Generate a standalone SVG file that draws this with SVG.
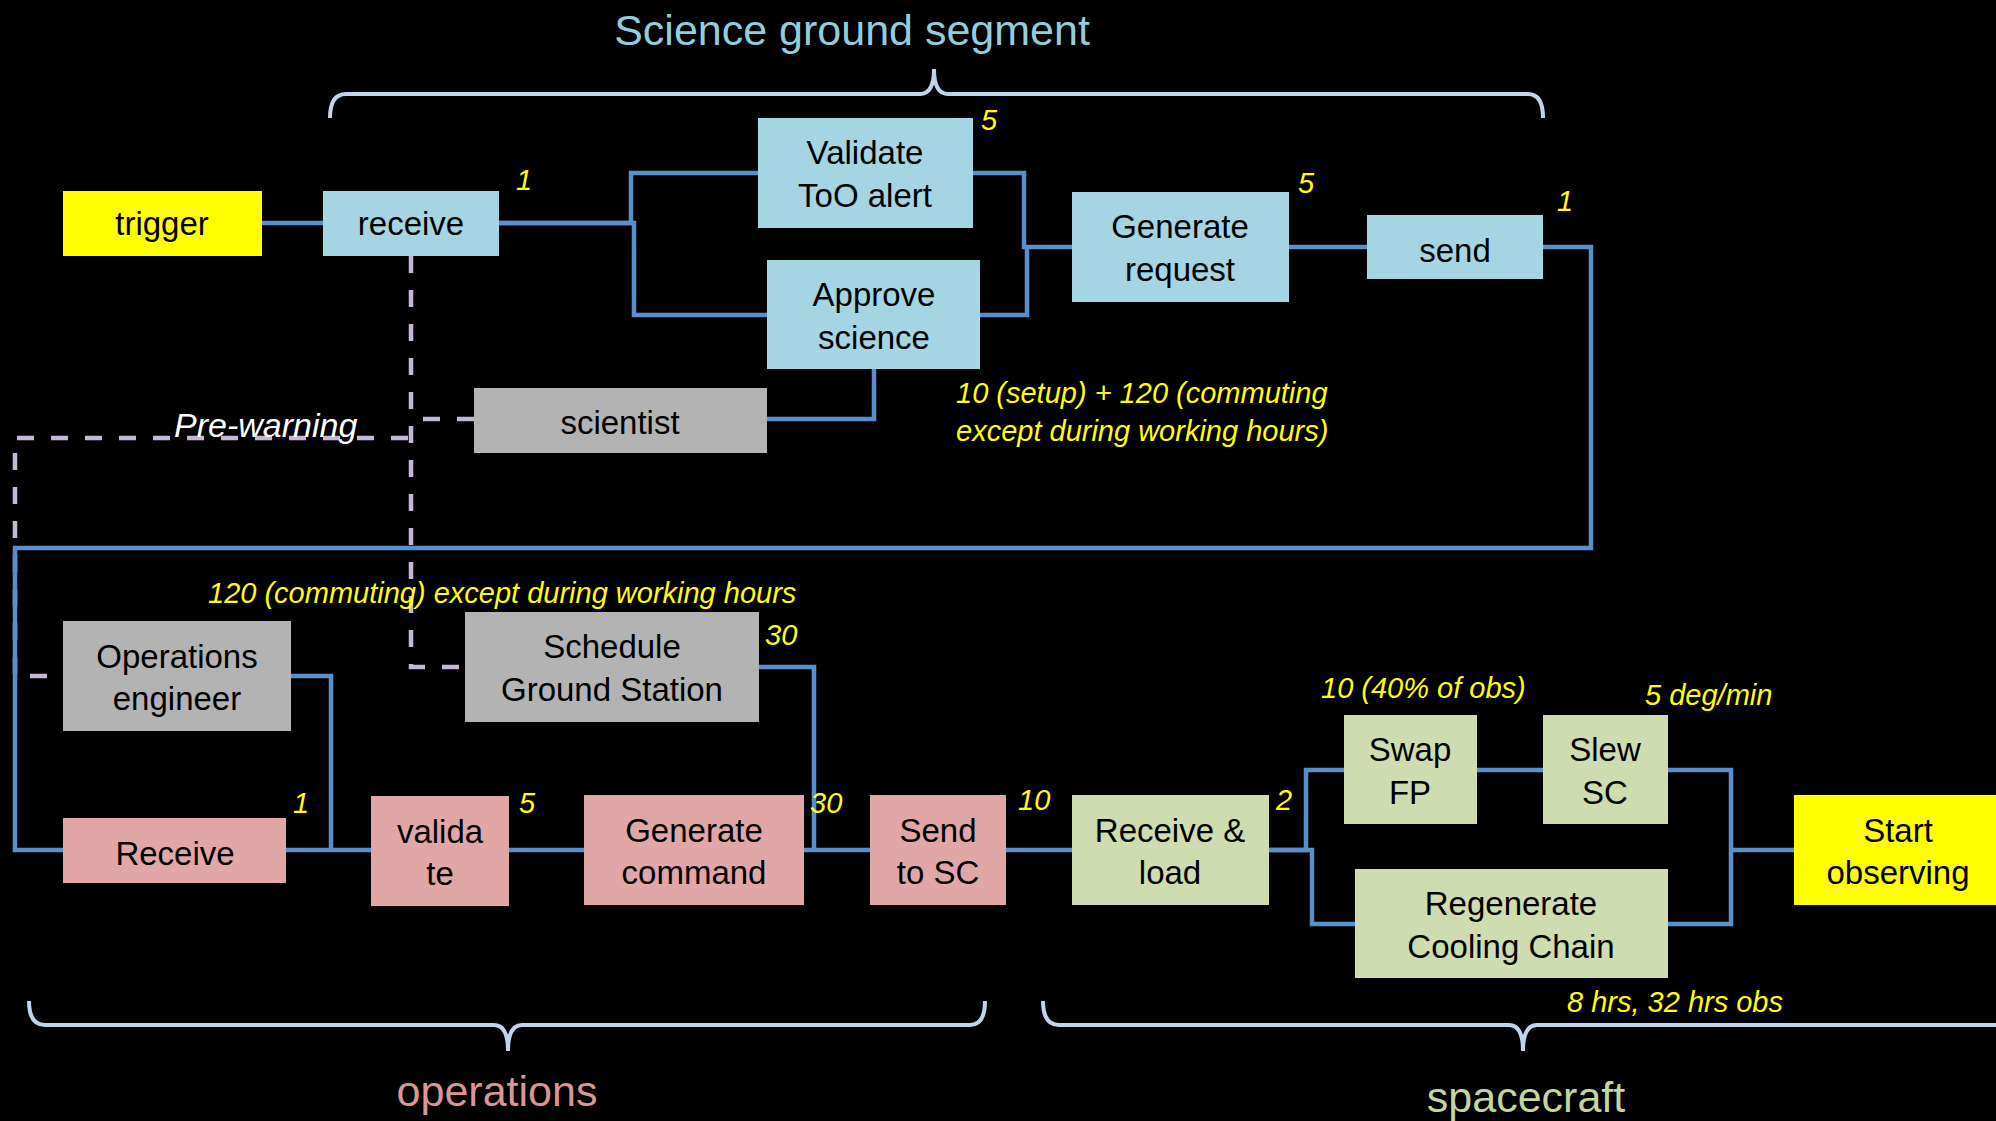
<svg xmlns="http://www.w3.org/2000/svg" width="1996" height="1121" viewBox="0 0 1996 1121">
<style>
.bg{fill:#000}
.t{font-family:"Liberation Sans",Arial,sans-serif;font-size:33px;fill:#000;text-anchor:middle}
.y{font-family:"Liberation Sans",Arial,sans-serif;font-size:29px;font-style:italic;fill:#ffff00}
.blue{fill:#a5d5e3}
.gray{fill:#b3b3b3}
.pink{fill:#e1a7a6}
.green{fill:#cedcaf}
.yel{fill:#ffff00}
.c{fill:none;stroke:#5b8fcb;stroke-width:4.5;stroke-linejoin:miter}
.d{fill:none;stroke:#c6b6d8;stroke-width:4.5;stroke-dasharray:17 17}
.br{fill:none;stroke:#c0d4ec;stroke-width:4}
.h{font-family:"Liberation Sans",Arial,sans-serif;font-size:43px;text-anchor:middle}
</style>
<rect class="bg" x="0" y="0" width="1996" height="1121"/>

<!-- section braces and headings -->
<g id="braces">
<path class="br" d="M330,118 Q330,94 346,94 L920,94 Q934,94 934,69 Q934,94 948,94 L1528,94 Q1543,94 1543,118"/>
<path class="br" d="M29,1001 Q29,1025 45,1025 L494,1025 Q508,1025 508,1051 Q508,1025 522,1025 L970,1025 Q985,1025 985,1001"/>
<path class="br" d="M1043,1001 Q1043,1025 1059,1025 L1509,1025 Q1523,1025 1523,1051 Q1523,1025 1537,1025 L2000,1025"/>
</g>
<text class="h" x="852" y="45" fill="#93cddd">Science ground segment</text>
<text class="h" x="497" y="1106" fill="#d99694" font-size="44">operations</text>
<text class="h" x="1526" y="1112" fill="#c3d69b">spacecraft</text>

<!-- connectors -->
<g id="connectors">
<path class="d" d="M411,256 L411,667 L465,667"/>
<path class="d" d="M474,419 L412,419"/>
<path class="d" d="M408,438 L15,438 L15,676 L63,676"/>
<path class="c" d="M262,223 L323,223"/>
<path class="c" d="M499,223 L631,223 L631,173 L758,173"/>
<path class="c" d="M499,223 L634,223 L634,315 L767,315"/>
<path class="c" d="M973,173 L1024,173 L1024,247 L1072,247"/>
<path class="c" d="M980,315 L1027,315 L1027,247"/>
<path class="c" d="M1289,247 L1367,247"/>
<path class="c" d="M874,369 L874,419 L767,419"/>
<path class="c" d="M1543,247 L1591,247 L1591,548 L15,548 L15,850 L63,850"/>
<path class="c" d="M286,850 L371,850"/>
<path class="c" d="M291,676 L331,676 L331,850"/>
<path class="c" d="M509,850 L584,850"/>
<path class="c" d="M804,850 L870,850"/>
<path class="c" d="M759,667 L814,667 L814,850"/>
<path class="c" d="M1006,850 L1072,850"/>
<path class="c" d="M1269,850 L1306,850 L1306,770 L1344,770"/>
<path class="c" d="M1269,850 L1312,850 L1312,924 L1355,924"/>
<path class="c" d="M1477,770 L1543,770"/>
<path class="c" d="M1668,770 L1731,770 L1731,924 L1668,924"/>
<path class="c" d="M1731,850 L1794,850"/>
</g>

<!-- nodes -->
<g id="trigger"><rect class="yel" x="63" y="191" width="199" height="65"/><text class="t" x="162" y="235">trigger</text></g>
<g id="receive"><rect class="blue" x="323" y="191" width="176" height="65"/><text class="t" x="411" y="235">receive</text></g>
<g id="validate-too"><rect class="blue" x="758" y="118" width="215" height="110"/><text class="t" x="865" y="164">Validate</text><text class="t" x="865" y="207">ToO alert</text></g>
<g id="approve-science"><rect class="blue" x="767" y="260" width="213" height="109"/><text class="t" x="874" y="306">Approve</text><text class="t" x="874" y="349">science</text></g>
<g id="generate-request"><rect class="blue" x="1072" y="192" width="217" height="110"/><text class="t" x="1180" y="238">Generate</text><text class="t" x="1180" y="281">request</text></g>
<g id="send"><rect class="blue" x="1367" y="215" width="176" height="64"/><text class="t" x="1455" y="262">send</text></g>
<g id="scientist"><rect class="gray" x="474" y="388" width="293" height="65"/><text class="t" x="620" y="434">scientist</text></g>
<g id="operations-engineer"><rect class="gray" x="63" y="621" width="228" height="110"/><text class="t" x="177" y="668">Operations</text><text class="t" x="177" y="710">engineer</text></g>
<g id="schedule-gs"><rect class="gray" x="465" y="612" width="294" height="110"/><text class="t" x="612" y="658">Schedule</text><text class="t" x="612" y="701">Ground Station</text></g>
<g id="receive-ops"><rect class="pink" x="63" y="818" width="223" height="65"/><text class="t" x="175" y="865">Receive</text></g>
<g id="validate-ops"><rect class="pink" x="371" y="796" width="138" height="110"/><text class="t" x="440" y="843">valida</text><text class="t" x="440" y="885">te</text></g>
<g id="generate-command"><rect class="pink" x="584" y="795" width="220" height="110"/><text class="t" x="694" y="842">Generate</text><text class="t" x="694" y="884">command</text></g>
<g id="send-to-sc"><rect class="pink" x="870" y="795" width="136" height="110"/><text class="t" x="938" y="842">Send</text><text class="t" x="938" y="884">to SC</text></g>
<g id="receive-load"><rect class="green" x="1072" y="795" width="197" height="110"/><text class="t" x="1170" y="842">Receive &amp;</text><text class="t" x="1170" y="884">load</text></g>
<g id="swap-fp"><rect class="green" x="1344" y="715" width="133" height="109"/><text class="t" x="1410" y="761">Swap</text><text class="t" x="1410" y="804">FP</text></g>
<g id="slew-sc"><rect class="green" x="1543" y="715" width="125" height="109"/><text class="t" x="1605" y="761">Slew</text><text class="t" x="1605" y="804">SC</text></g>
<g id="regenerate"><rect class="green" x="1355" y="869" width="313" height="109"/><text class="t" x="1511" y="915">Regenerate</text><text class="t" x="1511" y="958">Cooling Chain</text></g>
<g id="start-observing"><rect class="yel" x="1794" y="795" width="202" height="110"/><text class="t" x="1898" y="842">Start</text><text class="t" x="1898" y="884">observing</text></g>

<!-- annotations -->
<g id="labels">
<text class="y" x="516" y="190">1</text>
<text class="y" x="981" y="130">5</text>
<text class="y" x="1298" y="193">5</text>
<text class="y" x="1557" y="211">1</text>
<text class="y" x="956" y="403">10 (setup) + 120 (commuting</text>
<text class="y" x="956" y="441">except during working hours)</text>
<text class="y" x="208" y="603" font-size="30">120 (commuting) except during working hours</text>
<text class="y" x="765" y="645">30</text>
<text class="y" x="293" y="813">1</text>
<text class="y" x="519" y="813">5</text>
<text class="y" x="810" y="813">30</text>
<text class="y" x="1018" y="810">10</text>
<text class="y" x="1276" y="810">2</text>
<text class="y" x="1321" y="698">10 (40% of obs)</text>
<text class="y" x="1645" y="705" font-size="30">5 deg/min</text>
<text class="y" x="1567" y="1012">8 hrs, 32 hrs obs</text>
<text x="174" y="437" font-family="Liberation Sans, Arial, sans-serif" font-size="34" font-style="italic" fill="#ffffff">Pre-warning</text>
</g>
</svg>
